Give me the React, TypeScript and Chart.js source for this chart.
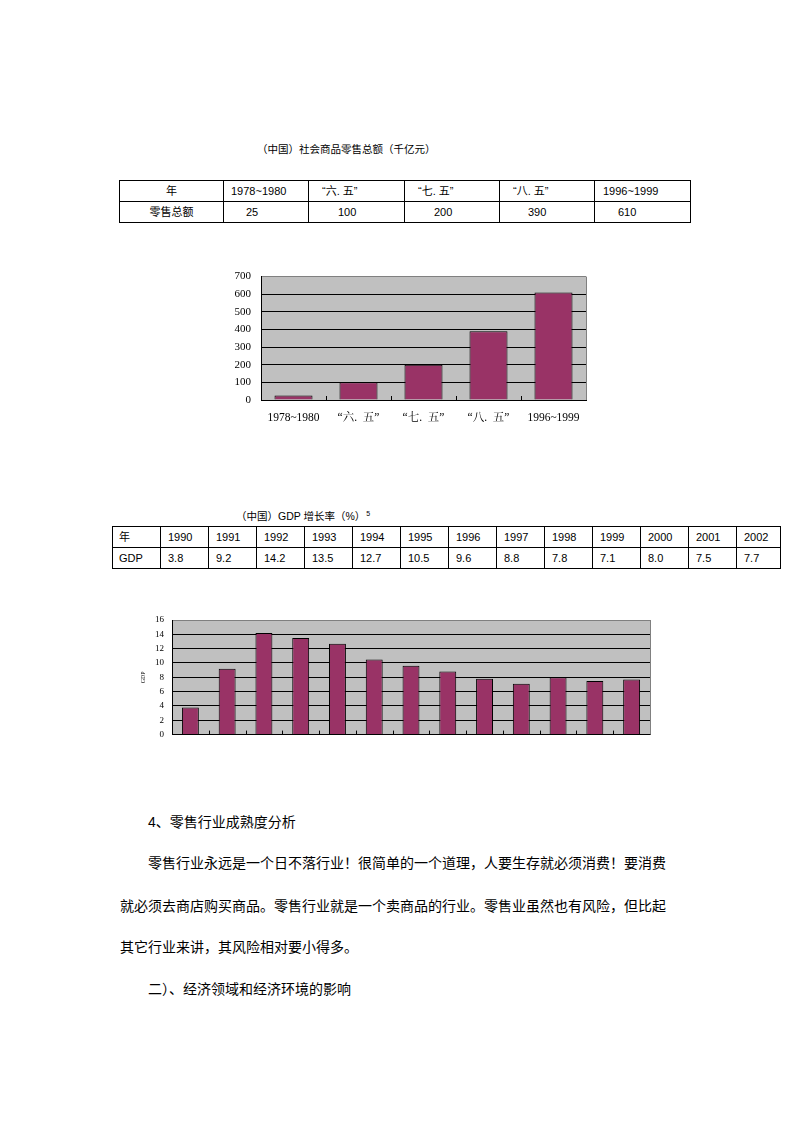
import React, { useEffect, useRef } from "react";
import { Chart, registerables } from "chart.js";

Chart.register(...registerables);

// ---------- Data ----------
const retailTitle = "（中国）社会商品零售总额（千亿元）";
const retailHeader = ["年", "1978~1980", "“六. 五”", "“七. 五”", "“八. 五”", "1996~1999"];
const retailRowLabel = "零售总额";
const retailValues = [25, 100, 200, 390, 610];
const retailChartLabels = ["1978~1980", "“六.  五”", "“七.  五”", "“八.  五”", "1996~1999"];
const retailTicks = { min: 0, max: 700, step: 100 };

const gdpTitle = "（中国）GDP 增长率（%）";
const gdpYears = ["1990", "1991", "1992", "1993", "1994", "1995", "1996", "1997", "1998", "1999", "2000", "2001", "2002"];
const gdpValues = [3.8, 9.2, 14.2, 13.5, 12.7, 10.5, 9.6, 8.8, 7.8, 7.1, 8.0, 7.5, 7.7];
const gdpValueText = ["3.8", "9.2", "14.2", "13.5", "12.7", "10.5", "9.6", "8.8", "7.8", "7.1", "8.0", "7.5", "7.7"];
const gdpTicks = { min: 0, max: 16, step: 2 };

const heading1 = "4、零售行业成熟度分析";
const paraLines = [
  "零售行业永远是一个日不落行业！很简单的一个道理，人要生存就必须消费！要消费",
  "就必须去商店购买商品。零售行业就是一个卖商品的行业。零售业虽然也有风险，但比起",
  "其它行业来讲，其风险相对要小得多。",
];
const heading2 = "二）、经济领域和经济环境的影响";

// ---------- Styles ----------
const BAR = "#993366";
const PLOT_BG = "#C0C0C0";
const FRAME_GRAY = "#808080";
const SANS = "'Liberation Sans', 'Noto Sans CJK SC', sans-serif";
const CJK = "'Noto Sans CJK SC', sans-serif";
const SERIF = "'Liberation Serif', 'Noto Serif CJK SC', 'Noto Sans CJK SC', serif";

const excelFrame = {
  id: "excelFrame",
  beforeDraw(chart: any) {
    const { ctx, chartArea: a } = chart;
    ctx.save();
    ctx.fillStyle = PLOT_BG;
    ctx.fillRect(a.left, a.top, a.right - a.left, a.bottom - a.top);
    ctx.restore();
  },
  afterDraw(chart: any) {
    const { ctx, chartArea: a } = chart;
    const n = chart.data.labels.length;
    ctx.save();
    ctx.lineWidth = 1;
    ctx.strokeStyle = FRAME_GRAY;
    ctx.beginPath();
    ctx.moveTo(Math.round(a.right) + 0.5, a.top);
    ctx.lineTo(Math.round(a.right) + 0.5, a.bottom);
    ctx.stroke();
    ctx.strokeStyle = "#000";
    const w = (a.right - a.left) / n;
    for (let i = 1; i < n; i++) {
      const x = Math.round(a.left + i * w) + 0.5;
      ctx.beginPath();
      ctx.moveTo(x, a.bottom);
      ctx.lineTo(x, a.bottom - 4);
      ctx.stroke();
    }
    ctx.restore();
  },
};

type BarChartProps = {
  labels: string[];
  values: number[];
  ticks: { min: number; max: number; step: number };
  width: number;
  height: number;
  yWidth: number;
  xHeight: number;
  padTop: number;
  padRight: number;
  barPct: number;
  tickFont: number;
  tickPad: number;
  showX: boolean;
  yTitle?: string;
};

function BarChart(p: BarChartProps) {
  const ref = useRef<HTMLCanvasElement>(null);
  useEffect(() => {
    if (!ref.current) return;
    const chart = new Chart(ref.current, {
      type: "bar",
      data: {
        labels: p.labels,
        datasets: [
          {
            data: p.values,
            backgroundColor: BAR,
            borderColor: "#000",
            borderWidth: 1,
            barPercentage: p.barPct,
            categoryPercentage: 1,
          },
        ],
      },
      options: {
        animation: false,
        responsive: false,
        devicePixelRatio: 1,
        layout: { padding: { top: p.padTop, right: p.padRight, left: 0, bottom: 0 } },
        plugins: { legend: { display: false }, tooltip: { enabled: false }, title: { display: false } },
        scales: {
          x: {
            offset: true,
            grid: { display: false, drawTicks: false },
            border: { display: true, color: "#000", width: 1 },
            ticks: {
              display: p.showX,
              color: "#000",
              padding: 11,
              maxRotation: 0,
              autoSkip: false,
              font: { family: SERIF, size: 11.5 },
            },
            afterFit: (s: any) => {
              s.height = p.xHeight;
            },
          },
          y: {
            min: p.ticks.min,
            max: p.ticks.max,
            grid: {
              drawTicks: false,
              lineWidth: 1,
              color: (c: any) => (c.tick && c.tick.value === p.ticks.max ? FRAME_GRAY : "#000"),
            },
            border: { display: true, color: "#000", width: 1 },
            ticks: {
              stepSize: p.ticks.step,
              color: "#000",
              padding: p.tickPad,
              font: { family: SERIF, size: p.tickFont },
            },
            title: p.yTitle
              ? {
                  display: true,
                  text: p.yTitle,
                  color: "#000",
                  font: { family: SERIF, size: 6 },
                  padding: { top: 20, bottom: 0 },
                }
              : { display: false },
            afterFit: (s: any) => {
              s.width = p.yWidth;
            },
          },
        },
      },
      plugins: [excelFrame],
    });
    return () => chart.destroy();
  }, []);
  return <canvas ref={ref} width={p.width} height={p.height} style={{ display: "block", width: p.width, height: p.height }} />;
}

const cellBase: React.CSSProperties = {
  border: "1px solid #000",
  padding: 0,
  height: 20,
  fontSize: 11,
  fontFamily: SANS,
  whiteSpace: "nowrap",
  overflow: "hidden",
  lineHeight: "20px",
};

export default function App() {
  const t1Cols = [104, 85, 96, 95, 95, 96];
  const t1HeaderPad = [0, 7, 13, 13, 13, 8];
  const t1ValuePad = [0, 22, 29, 29, 28, 23];
  const t2Cols = [48, 48, 48, 48, 48, 48, 48, 48, 48, 48, 48, 48, 48, 44];

  return (
    <div style={{ position: "absolute", left: 0, top: 0, width: 794, height: 1115, overflow: "hidden", background: "#fff", color: "#000" }}>
      <div style={{ position: "absolute", left: 257, top: 141, fontFamily: SANS, fontSize: 10.5, lineHeight: "16px", whiteSpace: "nowrap" }}>
        {retailTitle}
      </div>

      <table
        style={{ position: "absolute", left: 119, top: 180, borderCollapse: "collapse", tableLayout: "fixed", width: 572 }}
      >
        <colgroup>
          {t1Cols.map((w, i) => (
            <col key={i} style={{ width: w }} />
          ))}
        </colgroup>
        <tbody>
          <tr>
            {retailHeader.map((h, i) => (
              <td key={i} style={{ ...cellBase, textAlign: i === 0 ? "center" : "left", paddingLeft: t1HeaderPad[i] }}>
                {h}
              </td>
            ))}
          </tr>
          <tr>
            <td style={{ ...cellBase, textAlign: "center" }}>{retailRowLabel}</td>
            {retailValues.map((v, i) => (
              <td key={i} style={{ ...cellBase, textAlign: "left", paddingLeft: t1ValuePad[i + 1] }}>
                {v}
              </td>
            ))}
          </tr>
        </tbody>
      </table>

      <div style={{ position: "absolute", left: 200, top: 260 }}>
        <BarChart
          labels={retailChartLabels}
          values={retailValues}
          ticks={retailTicks}
          width={420}
          height={180}
          yWidth={61}
          xHeight={40}
          padTop={16}
          padRight={34}
          barPct={0.585}
          tickFont={11}
          tickPad={10}
          showX={true}
        />
      </div>

      <div style={{ position: "absolute", left: 236, top: 508, fontFamily: SANS, fontSize: 10.5, lineHeight: "16px", whiteSpace: "nowrap" }}>
        {gdpTitle}
        <span style={{ fontSize: 7, verticalAlign: "top", marginLeft: 1, position: "relative", top: -2 }}>5</span>
      </div>

      <table
        style={{ position: "absolute", left: 112, top: 526, borderCollapse: "collapse", tableLayout: "fixed", width: 669 }}
      >
        <colgroup>
          {t2Cols.map((w, i) => (
            <col key={i} style={{ width: w }} />
          ))}
        </colgroup>
        <tbody>
          <tr>
            <td style={{ ...cellBase, paddingLeft: 6 }}>年</td>
            {gdpYears.map((y, i) => (
              <td key={i} style={{ ...cellBase, paddingLeft: 7 }}>
                {y}
              </td>
            ))}
          </tr>
          <tr>
            <td style={{ ...cellBase, paddingLeft: 6 }}>GDP</td>
            {gdpValueText.map((v, i) => (
              <td key={i} style={{ ...cellBase, paddingLeft: 7 }}>
                {v}
              </td>
            ))}
          </tr>
        </tbody>
      </table>

      <div style={{ position: "absolute", left: 120, top: 605 }}>
        <BarChart
          labels={gdpYears}
          values={gdpValues}
          ticks={gdpTicks}
          width={545}
          height={143}
          yWidth={52}
          xHeight={11}
          padTop={15}
          padRight={15}
          barPct={0.46}
          tickFont={9}
          tickPad={8}
          showX={false}
          yTitle="GDP"
        />
      </div>

      <div style={{ position: "absolute", left: 148, top: 812, fontFamily: SANS, fontSize: 14, lineHeight: "20px", whiteSpace: "nowrap" }}>
        {heading1}
      </div>
      <div style={{ position: "absolute", left: 148, top: 852, fontFamily: CJK, fontSize: 14, lineHeight: "20px", whiteSpace: "nowrap" }}>
        {paraLines[0]}
      </div>
      <div style={{ position: "absolute", left: 120, top: 895, fontFamily: CJK, fontSize: 14, lineHeight: "20px", whiteSpace: "nowrap" }}>
        {paraLines[1]}
      </div>
      <div style={{ position: "absolute", left: 120, top: 936, fontFamily: CJK, fontSize: 14, lineHeight: "20px", whiteSpace: "nowrap" }}>
        {paraLines[2]}
      </div>
      <div style={{ position: "absolute", left: 148, top: 978, fontFamily: CJK, fontSize: 14, lineHeight: "20px", whiteSpace: "nowrap" }}>
        {heading2}
      </div>
    </div>
  );
}
